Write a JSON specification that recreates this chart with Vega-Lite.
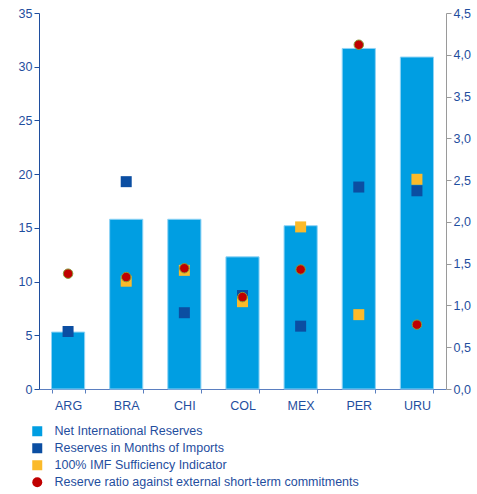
{
  "$schema": "https://vega.github.io/schema/vega-lite/v6.json",
  "width": 407,
  "height": 376,
  "autosize": {"type": "none"},
  "padding": {"left": 39, "top": 13, "right": 31, "bottom": 105},
  "config": {
    "locale": {"number": {"decimal": ",", "thousands": ".", "grouping": [3], "currency": ["", ""]}},
    "font": "Liberation Sans",
    "view": {"stroke": null},
    "axis": {"labelColor": "#1F4E9E", "labelFontSize": 12.5, "labelFont": "Liberation Sans", "grid": false, "titleColor": "#1F4E9E"}
  },
  "data": {
    "values": [
      {"country": "ARG", "series": "Net International Reserves", "value": 5.3},
      {"country": "BRA", "series": "Net International Reserves", "value": 15.8},
      {"country": "CHI", "series": "Net International Reserves", "value": 15.8},
      {"country": "COL", "series": "Net International Reserves", "value": 12.3},
      {"country": "MEX", "series": "Net International Reserves", "value": 15.2},
      {"country": "PER", "series": "Net International Reserves", "value": 31.7},
      {"country": "URU", "series": "Net International Reserves", "value": 30.9},
      {"country": "ARG", "series": "Reserves in Months of Imports", "value": 5.35},
      {"country": "BRA", "series": "Reserves in Months of Imports", "value": 19.3},
      {"country": "CHI", "series": "Reserves in Months of Imports", "value": 7.1},
      {"country": "COL", "series": "Reserves in Months of Imports", "value": 8.7},
      {"country": "MEX", "series": "Reserves in Months of Imports", "value": 5.85},
      {"country": "PER", "series": "Reserves in Months of Imports", "value": 18.8},
      {"country": "URU", "series": "Reserves in Months of Imports", "value": 18.45},
      {"country": "BRA", "series": "100% IMF Sufficiency Indicator", "value": 1.29},
      {"country": "CHI", "series": "100% IMF Sufficiency Indicator", "value": 1.42},
      {"country": "COL", "series": "100% IMF Sufficiency Indicator", "value": 1.045},
      {"country": "MEX", "series": "100% IMF Sufficiency Indicator", "value": 1.94},
      {"country": "PER", "series": "100% IMF Sufficiency Indicator", "value": 0.89},
      {"country": "URU", "series": "100% IMF Sufficiency Indicator", "value": 2.51},
      {"country": "ARG", "series": "Reserve ratio against external short-term commitments", "value": 1.38},
      {"country": "BRA", "series": "Reserve ratio against external short-term commitments", "value": 1.34},
      {"country": "CHI", "series": "Reserve ratio against external short-term commitments", "value": 1.445},
      {"country": "COL", "series": "Reserve ratio against external short-term commitments", "value": 1.1},
      {"country": "MEX", "series": "Reserve ratio against external short-term commitments", "value": 1.43},
      {"country": "PER", "series": "Reserve ratio against external short-term commitments", "value": 4.12},
      {"country": "URU", "series": "Reserve ratio against external short-term commitments", "value": 0.77}
    ]
  },
  "encoding": {
    "x": {
      "field": "country", "type": "nominal", "title": null,
      "scale": {"paddingInner": 0.43, "paddingOuter": 0.215},
      "axis": {"labelAngle": 0, "domainColor": "#5B7FC0", "tickColor": "#5B7FC0", "tickBand": "extent", "tickSize": 4, "labelPadding": 6}
    },
    "color": {"field": "series", "type": "nominal", "title": null,
      "scale": {
        "domain": ["Net International Reserves", "Reserves in Months of Imports", "100% IMF Sufficiency Indicator", "Reserve ratio against external short-term commitments"],
        "range": ["#009EE2", "#0B4EA2", "#FBBA2A", "#C00000"]
      },
      "legend": {
        "orient": "none", "legendX": -8, "legendY": 412, "direction": "vertical",
        "labelFontSize": 12.5, "labelColor": "#1F4E9E", "labelFont": "Liberation Sans",
        "symbolSize": 100, "rowPadding": 4, "labelOffset": 11, "symbolStrokeWidth": 0,
        "labelLimit": 400
      }
    }
  },
  "layer": [
    {
      "layer": [
        {
          "transform": [{"filter": "datum.series === 'Net International Reserves'"}],
          "mark": {"type": "bar", "stroke": "#8FD3F5", "strokeWidth": 1},
          "encoding": {
            "y": {"field": "value", "type": "quantitative", "title": null,
              "scale": {"domain": [0, 35], "nice": false},
              "axis": {"values": [0, 5, 10, 15, 20, 25, 30, 35], "domainColor": "#1F4E9E", "tickColor": "#1F4E9E", "tickSize": 5}}
          }
        },
        {
          "transform": [{"filter": "datum.series === 'Reserves in Months of Imports'"}],
          "mark": {"type": "point", "filled": true, "size": 121, "opacity": 1},
          "encoding": {
            "y": {"field": "value", "type": "quantitative", "scale": {"domain": [0, 35], "nice": false}},
            "shape": {"field": "series", "type": "nominal", "title": null,
              "scale": {
                "domain": ["Net International Reserves", "Reserves in Months of Imports", "100% IMF Sufficiency Indicator", "Reserve ratio against external short-term commitments"],
                "range": ["square", "square", "square", "circle"]
              }
            }
          }
        }
      ]
    },
    {
      "layer": [
        {
          "transform": [{"filter": "datum.series === '100% IMF Sufficiency Indicator'"}],
          "mark": {"type": "point", "filled": true, "size": 121, "opacity": 1},
          "encoding": {
            "y": {"field": "value", "type": "quantitative", "title": null,
              "scale": {"domain": [0, 4.5], "nice": false},
              "axis": {"orient": "right", "format": ".1f", "values": [0, 0.5, 1, 1.5, 2, 2.5, 3, 3.5, 4, 4.5], "domainColor": "#9A9A9A", "tickColor": "#9A9A9A", "tickSize": 5}},
            "shape": {"field": "series", "type": "nominal", "title": null}
          }
        },
        {
          "transform": [{"filter": "datum.series === 'Reserve ratio against external short-term commitments'"}],
          "mark": {"type": "point", "filled": true, "size": 90, "opacity": 1, "stroke": "#8A9A3A", "strokeWidth": 1},
          "encoding": {
            "y": {"field": "value", "type": "quantitative", "scale": {"domain": [0, 4.5], "nice": false}},
            "shape": {"field": "series", "type": "nominal", "title": null}
          }
        }
      ]
    }
  ],
  "resolve": {"scale": {"y": "independent"}}
}
